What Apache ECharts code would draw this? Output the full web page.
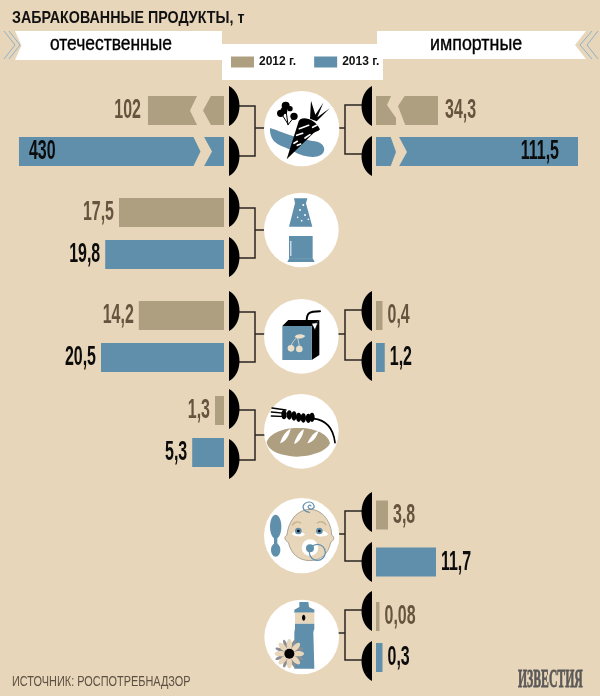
<!DOCTYPE html>
<html><head><meta charset="utf-8">
<style>html,body{margin:0;padding:0;background:#e8d6ba}#c{width:600px;height:696px}</style>
<script src="https://cdn.jsdelivr.net/npm/echarts@6/dist/echarts.min.js"></script>
</head><body><div id="c"></div>
<script>
// --- data (tonnes) ---
const yearLabels = ['2012 г.', '2013 г.'];
const domesticProducts = ['овощи', 'напитки', 'соки', 'хлеб'];
const domestic2012 = [102, 17.5, 14.2, 1.3];
const domestic2013 = [430, 19.8, 20.5, 5.3];
const importProducts = ['овощи', 'соки', 'детское питание', 'масло'];
const import2012 = [34.3, 0.4, 3.8, 0.08];
const import2013 = [111.5, 1.2, 11.7, 0.3];
// bar lengths as drawn: the original is not to scale for the broken and tiny bars
const domesticDrawn2012 = [12.67, 17.5, 14.2, 1.5];
const domesticDrawn2013 = [34.17, 19.8, 20.5, 5.3];
const importDrawn2012 = [12.4, 1.3, 2.4, 0.7];
const importDrawn2013 = [40.4, 1.75, 12, 1.3];

const BG='#e8d6ba',TAN='#ae9f80',BLUE='#5f8fab',BROWN='#67543f',INK='#0c0c0c';
const FONT='"Liberation Sans",sans-serif';
const fmt=v=>String(v).replace('.',',');

const leftLayout=[[90,82],[191.5,84],[294.5,84],[389.5,84]];
const rightLayout=[[90,82],[294.5,84],[491.5,94],[596,82]];
const grids=[],xAxes=[],yAxes=[],series=[];
function addPanel(side,layout,vals12,vals13,drawn12,drawn13,names){
  layout.forEach((l,i)=>{
    const idx=grids.length;
    grids.push(side==='L'?{left:14,width:210,top:l[0],height:l[1]}:{left:376,width:205,top:l[0],height:l[1]});
    xAxes.push({gridIndex:idx,type:'value',min:0,max:side==='L'?35:41,inverse:side==='L',show:false});
    yAxes.push({gridIndex:idx,type:'category',data:yearLabels,inverse:true,show:false});
    const mk=(name,draw,color,row)=>series.push({type:'bar',name,xAxisIndex:idx,yAxisIndex:idx,barWidth:29,barGap:'-100%',
      animation:false,silent:true,itemStyle:{color},data:row===0?[draw,'-']:['-',draw]});
    mk(yearLabels[0],drawn12[i],TAN,0);
    mk(yearLabels[1],drawn13[i],BLUE,1);
    const reals=[vals12[i],vals13[i]];
    series.push({type:'custom',coordinateSystem:'cartesian2d',xAxisIndex:idx,yAxisIndex:idx,z:12,silent:true,animation:false,
      encode:{x:0,y:1},data:[[drawn12[i],0],[drawn13[i],1]],
      renderItem(p,api){
        const row=api.value(1),real=reals[row],pt=api.coord([api.value(0),row]);
        const inside=real>=111, gap=real>=34?7:5;
        let x,align;
        if(side==='L'){ if(inside){x=pt[0]+10;align='left';}else{x=pt[0]-gap;align='right';} }
        else { if(inside){x=pt[0]-19;align='right';}else{x=pt[0]+gap;align='left';} }
        return {type:'text',x,y:pt[1],scaleX:0.57,style:{text:fmt(real),textAlign:align,textVerticalAlign:'middle',
          fontFamily:FONT,fontWeight:'bold',fontSize:28,fill:row===0?BROWN:INK}};
      }});
  });
}
addPanel('L',leftLayout,domestic2012,domestic2013,domesticDrawn2012,domesticDrawn2013,domesticProducts);
addPanel('R',rightLayout,import2012,import2013,importDrawn2012,importDrawn2013,importProducts);

const g=[];
const poly=(pts,fill)=>g.push({type:'polygon',shape:{points:pts},style:{fill}});
const line=(pts,stroke,w)=>g.push({type:'polyline',shape:{points:pts},style:{stroke,lineWidth:w,fill:null}});
// banners + legend box
poly([[15,31],[222,31],[222,60],[15,60],[21.5,45.5]],'#fff');
poly([[377,31],[586,31],[575,45],[586,59],[377,59]],'#fff');
g.push({type:'rect',shape:{x:222,y:44,width:161,height:36},style:{fill:'#fff'}});
const CH='#8fb2c6';
line([[4,31],[15,45],[4,59]],CH,1);line([[9,31],[20,45],[9,59]],CH,1);
line([[592,31],[580,45],[592,59]],CH,1);line([[598,31],[587,45],[598,59]],CH,1);
// bar breaks
poly([[198,94],[190,110.5],[198,127],[212,127],[203,110.5],[212,94]],BG);
poly([[192.5,135],[200.5,151.5],[192.5,168],[203,168],[212,151.5],[203,135]],BG);
poly([[392,94],[387,105],[396,118],[396,127],[406,127],[398,106],[406,94]],BG);
poly([[390,135],[396,152],[390,168],[398,168],[407,152],[398,135]],BG);
// brackets and caps
const capL=y=>g.push({type:'path',shape:{pathData:`M229 ${y}C243 ${y+7} 243 ${y+33} 229 ${y+40}Z`},style:{fill:'#000'}});
const capR=y=>g.push({type:'path',shape:{pathData:`M372 ${y}C358 ${y+7} 358 ${y+33} 372 ${y+40}Z`},style:{fill:'#000'}});
const LN='#2a2622';
[[86,136,106,156,128],[187,237,208,258,230],[291,341,312,362,334],[389,439,410,460,435]].forEach(r=>{
  line([[238,r[2]],[255,r[2]],[255,r[3]],[238,r[3]]],LN,1.5);line([[255,r[4]],[266,r[4]]],LN,1.5);
  capL(r[0]);capL(r[1]);
});
[[86,136,105,154,128],[291,341,310,360,334],[492,542,511,561,534],[591,641,610,660,633]].forEach(r=>{
  line([[363,r[2]],[345,r[2]],[345,r[3]],[363,r[3]]],LN,1.5);line([[345,r[4]],[337,r[4]]],LN,1.5);
  capR(r[0]);capR(r[1]);
});
// icons: drawn in 3x-zoom coordinates
function icon(ox,oy,kids){g.push({type:'group',x:ox,y:oy,scaleX:1/3,scaleY:1/3,children:kids});}
const P=(d,fill,stroke,lw)=>({type:'path',shape:{pathData:d},style:{fill:fill||null,stroke:stroke||null,lineWidth:lw||0,lineCap:'round'}});
const C=(cx,cy,r,fill,stroke,lw)=>({type:'circle',shape:{cx,cy,r},style:{fill:fill||null,stroke:stroke||null,lineWidth:lw||0}});
const E=(cx,cy,rx,ry,fill,rot)=>({type:'ellipse',shape:{cx:0,cy:0,rx,ry},x:cx,y:cy,rotation:rot||0,style:{fill}});
const R=(x,y,w,h,fill)=>({type:'rect',shape:{x,y,width:w,height:h},style:{fill}});
const W='#fff';
icon(260,88,[C(125,122,113,W),
 P('M30 120C50 125 100 150 165 160C192 165 200 185 186 199C170 212 130 208 100 190C70 172 28 172 30 120Z',BLUE),
 P('M80 214L116 100C124 82 165 92 180 124C176 130 168 130 160 136Z','#000'),
 P('M118 122L146 112M158 118L170 112M110 142L128 136M135 150L150 140M102 166L112 160M112 172L122 168',null,W,5),
 P('M150 92L153 38L166 80L190 44L172 88L210 60L170 100Z','#000'),
 C(77,53,12,'#000'),C(62,76,11,'#000'),C(72,68,10,'#000'),C(102,85,11,'#000'),C(90,62,8,'#000'),
 P('M77 60L84 110M66 80L84 108M100 90L84 110',null,'#000',3)]);
icon(200,180,[C(304,150,112,W),
 P('M282 55L322 55L318 70L337 140L267 140L285 70Z',BLUE),
 C(300,90,3,W),C(310,75,3,W),C(315,105,3,W),C(293,112,2.5,W),C(305,122,2.5,W),C(325,118,2.5,W),
 R(267,168,71,68,BLUE),P('M268 235L338 235L344 246L262 246Z',BLUE),R(271,183,3,45,W)]);
icon(200,180,[C(304,469,112,W),
 P('M335 438L358 420L358 525L335 540Z','#000'),P('M247 438L265 420L358 420L335 438Z','#000'),
 R(247,438,88,102,BLUE),
 P('M320 424C320 400 326 394 360 394',null,'#000',6),
 P('M335 430L354 428L345 450Z',W,'#000',2),
 C(273,505,10,'#eadfca'),C(298,507,10,'#eadfca'),
 P('M273 497C278 484 286 478 292 470M298 499C296 488 294 478 292 470',null,'#eadfca',2.5),
 P('M284 470C292 460 308 462 316 468C306 478 292 478 284 470Z','#eadfca')]);
icon(200,180,[C(304,754,112,W),
 P('M216 684L258 690M214 696L258 700M214 708L258 710',null,'#000',4),
 ...[[252,704],[268,705],[282,708],[296,712],[310,714],[325,715],[336,712]].map(p=>E(p[0],p[1],8,14,'#000')),
 P('M340 716C378 720 400 745 405 788',null,'#000',5),
 P('M200 787C210 755 260 742 300 744C350 744 386 765 390 790C380 815 330 830 290 830C245 828 205 815 200 787Z',TAN),
 P('M240 790C246 770 258 752 272 746C268 765 258 785 240 790ZM282 792C288 772 300 752 312 748C308 770 298 788 282 792ZM322 790C330 772 342 756 356 752C350 772 340 786 322 790Z',W)]);
icon(260,495,[C(125,122,113,W),
 E(47,95,17,36,BLUE),R(42,125,10,40,BLUE),E(47,165,14,20,BLUE),
 P('M150 43C190 43 215 85 215 120C224 125 224 135 212 142C205 180 180 196 150 197C115 197 92 175 85 142C72 135 72 125 81 120C85 80 110 43 150 43Z','#e8d6ba','#6a6258',1.5),
 P('M95 118C102 105 118 105 135 118C128 128 108 126 95 118ZM165 118C178 105 195 105 205 118C195 126 175 128 165 118Z',W),
 C(115,108,10,BLUE),C(178,108,10,BLUE),C(115,108,4,'#000'),C(178,108,4,'#000'),
 P('M97 90C104 80 115 78 122 84M172 84C182 78 192 80 198 90',null,'#c6b48f',4),
 C(150,158,25,W),C(172,172,24,null,BLUE,3.5),C(150,160,12,BLUE),
 P('M148 52C132 50 125 38 132 28C140 18 158 18 162 32C165 42 150 46 145 38C142 32 150 28 153 33',null,BLUE,3.5)]);
const greyPetals=[],tanPetals=[];
for(let a=0;a<8;a++){
 const t=a*Math.PI/4,t2=t+Math.PI/8;
 greyPetals.push(E(88+Math.cos(t2)*30,170+Math.sin(t2)*30,15,5,'#8b8d92',-t2));
 tanPetals.push(E(88+Math.cos(t)*27,170+Math.sin(t)*27,17,8,'#e8d6ba',-t));
}
icon(260,597,[C(125,120,112,W),
 P('M118 15L145 15L147 30L163 38L163 47L103 47L103 38L118 30Z',BLUE),
 R(105,47,58,33,'#e8d6ba'),E(131,62,5,9,'#000'),
 P('M105 80L163 80L163 95L160 105L163 215L103 215L103 105L105 95Z',BLUE),
 ...greyPetals,...tanPetals,C(88,170,15,'#000')]);
// text
const T=(text,x,y,sx,o)=>g.push({type:'text',x,y,scaleX:sx,style:Object.assign({text,fontFamily:FONT,textVerticalAlign:'middle',fill:'#000'},o)});
T('ЗАБРАКОВАННЫЕ ПРОДУКТЫ, т',12,18,0.84,{fontSize:17,fontWeight:'bold',fill:'#111'});
T('отечественные',50,44,0.83,{fontSize:21,stroke:'#000',lineWidth:0.4});
T('импортные',430,44,0.85,{fontSize:21,stroke:'#000',lineWidth:0.4});
T('ИСТОЧНИК: РОСПОТРЕБНАДЗОР',12,682,0.78,{fontSize:14,fill:'#5c5043'});
T('ИЗВЕСТИЯ',518,680,0.45,{fontFamily:'"Liberation Serif"',fontWeight:'bold',fontSize:26,fill:'#5b5957',stroke:'#5b5957',lineWidth:0.8});

series.push({type:'custom',coordinateSystem:'none',z:10,silent:true,animation:false,data:[0],
  renderItem(){return {type:'group',children:g};}});

const option={
  backgroundColor:BG,animation:false,
  legend:{left:231,top:56,padding:0,itemWidth:23,itemHeight:11,itemGap:18,selectedMode:false,icon:'rect',z:20,
    data:yearLabels,textStyle:{fontFamily:FONT,fontSize:12,fontWeight:'bold',color:'#111'}},
  grid:grids,xAxis:xAxes,yAxis:yAxes,series
};
echarts.init(document.getElementById('c'),null,{renderer:'canvas'}).setOption(option);
</script></body></html>
